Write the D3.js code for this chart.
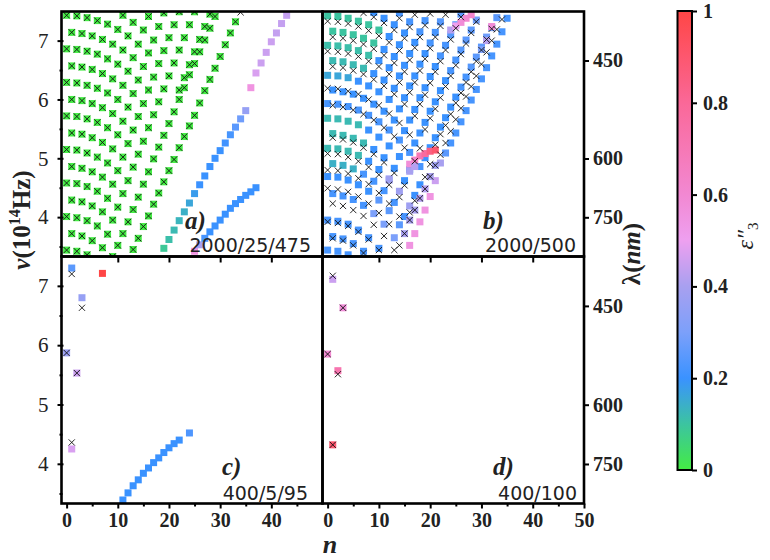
<!DOCTYPE html>
<html>
<head>
<meta charset="utf-8">
<script src="https://cdn.jsdelivr.net/npm/d3@7"></script>
<style>
body { margin: 0; background: #fff; }
svg text { font-family: 'Liberation Serif', 'Times New Roman', serif; }
</style>
</head>
<body>
<svg id="chart" width="770" height="560"></svg>
<script>

// ---- data (n, nu in 1e14 Hz, eps'') ----

// colormap used for eps''
var cmapStops = [0, 0.1, 0.2, 0.3, 0.4, 0.5, 0.6, 0.8, 1];
var cmapColors = ["#44ec44", "#3cc4a0", "#3a92ff", "#7ca0fa", "#a8a0f0", "#eea0f0", "#f288d2", "#fa6898", "#ff4646"];
var cbarTicks = [0, 0.2, 0.4, 0.6, 0.8, 1];

var xTicksTop = [10, 20, 30, 40];
var xTicksC = [0, 10, 20, 30, 40];
var xTicksD = [0, 10, 20, 30, 40, 50];
var xMinor = [5, 15, 25, 35, 45];
var nuTicks = [4, 5, 6, 7];
var nuMinor = [3.5, 4.5, 5.5, 6.5, 7.5];
var lambdaTicks = [450, 600, 750];

// panel a: rows of the green lattice, [first n, nu values every 2nd n] (squares + crosses)
var rowsA = [
  [0, [7.43, 7.42, 7.39, 7.34, 7.28, 7.19, 7.08, 6.94, 6.79, 6.61, 6.40, 6.16]],
  [1, [7.14, 7.12, 7.08, 7.02, 6.94, 6.84, 6.71, 6.56, 6.38, 6.18]],
  [0, [6.86, 6.85, 6.82, 6.77, 6.69, 6.60, 6.48, 6.33, 6.16, 5.96]],
  [1, [6.57, 6.55, 6.51, 6.44, 6.35, 6.24, 6.10, 5.93, 5.74]],
  [0, [6.29, 6.28, 6.24, 6.19, 6.11, 6.00, 5.87, 5.71, 5.52]],
  [1, [6.00, 5.98, 5.93, 5.86, 5.76, 5.63, 5.48, 5.29]],
  [0, [5.72, 5.71, 5.67, 5.61, 5.52, 5.40, 5.25, 5.07]],
  [1, [5.43, 5.41, 5.35, 5.27, 5.16, 5.02, 4.85]],
  [0, [5.15, 5.14, 5.09, 5.02, 4.92, 4.79, 4.62]],
  [1, [4.86, 4.83, 4.77, 4.68, 4.56, 4.40]],
  [0, [4.58, 4.57, 4.52, 4.44, 4.32, 4.17]],
  [1, [4.29, 4.26, 4.19, 4.09, 3.95]],
  [0, [4.01, 3.99, 3.94, 3.85, 3.71]],
  [1, [3.72, 3.68, 3.60, 3.48]],
  [0, [3.44, 3.42, 3.36]],
  [11, [7.43, 7.31, 7.18, 7.01, 6.83, 6.62, 6.37]],
  [16, [7.41, 7.24, 7.05, 6.84, 6.59]],
  [19, [7.47, 7.27, 7.05, 6.81]],
  [22, [7.49, 7.27, 7.02]],
  [25, [7.49, 7.24]],
  [28, [7.45]]
];
var lineA1 = [3.45, 3.64, 3.84, 4.02, 4.22, 4.41, 4.60, 4.79, 4.98, 5.18, 5.37, 5.55, 5.73, 5.94, 6.15, 6.34, 6.53, 6.73, 6.93, 7.13, 7.32]; // n = 13..33
var lineA2 = [3.33, 3.52, 3.72, 3.92, 4.13, 4.34, 4.56, 4.77, 4.99, 5.19, 5.39, 5.59, 5.79, 6.00, 6.20, 6.42, 6.61, 6.81, 7.01, 7.21, 7.41]; // n = 9..29
var extraCrossA = [[34, 7.48]];
// panel a: branches without crosses
var branchT = [3.47, 3.62, 3.78, 3.94, 4.09, 4.24, 4.40, 4.55, 4.70, 4.86, 5.00, 5.13, 5.26, 5.40, 5.53, 5.67, 5.81]; // n = 19..35
var branchTEps = [0.09, 0.11, 0.12, 0.13, 0.14, 0.16, 0.18, 0.2, 0.2, 0.2, 0.2, 0.2, 0.21, 0.22, 0.25, 0.28, 0.36];
var branchP = [6.20, 6.45, 6.62, 6.80, 6.98, 7.13, 7.29, 7.43]; // n = 36..43
var branchPEps = [0.55, 0.47, 0.45, 0.45, 0.45, 0.44, 0.44, 0.44];
var branchB = [3.42, 3.53, 3.64, 3.75, 3.85, 3.95, 4.05, 4.15, 4.23, 4.30, 4.37, 4.43, 4.50]; // n = 25..37
var branchBEps = [0.55, 0.4, 0.22, 0.2, 0.2, 0.2, 0.2, 0.2, 0.2, 0.2, 0.2, 0.2, 0.2];

// panel b: square rows [first n, nu every 2nd n, [[from n, eps], ...]]
var sqRowsB = [
  [0, [7.42, 7.41, 7.38, 7.33, 7.27, 7.18, 7.07, 6.93, 6.78, 6.60, 6.39, 6.15, 5.87], [[0, 0.1], [12, 0.2]]],
  [1, [7.16, 7.14, 7.10, 7.04, 6.96, 6.85, 6.73, 6.58, 6.40, 6.20, 5.96, 5.69], [[0, 0.1], [11, 0.2]]],
  [0, [6.92, 6.91, 6.88, 6.83, 6.75, 6.66, 6.54, 6.40, 6.23, 6.03, 5.80, 5.53], [[0, 0.11], [10, 0.2]]],
  [1, [6.66, 6.64, 6.59, 6.53, 6.44, 6.33, 6.19, 6.03, 5.83, 5.61, 5.35], [[0, 0.12], [9, 0.2]]],
  [0, [6.41, 6.40, 6.37, 6.31, 6.23, 6.13, 6.00, 5.84, 5.65, 5.43, 5.18], [[0, 0.16], [6, 0.2]]],
  [1, [6.16, 6.13, 6.09, 6.02, 5.92, 5.80, 5.65, 5.47, 5.26, 5.01], [[0, 0.2]]],
  [0, [5.93, 5.92, 5.88, 5.82, 5.73, 5.62, 5.48, 5.31, 5.10, 4.86], [[0, 0.22]]],
  [0, [5.68, 5.67, 5.63, 5.57, 5.48, 5.36, 5.21, 5.03, 4.81, 4.55], [[0, 0.12], [8, 0.2]]],
  [1, [5.42, 5.39, 5.34, 5.26, 5.15, 5.01, 4.83, 4.62, 4.37], [[0, 0.12], [9, 0.2]]],
  [0, [5.17, 5.16, 5.12, 5.05, 4.95, 4.81, 4.65, 4.44, 4.19], [[0, 0.12], [8, 0.2], [12, 0.38]]],
  [1, [4.91, 4.88, 4.82, 4.73, 4.61, 4.45, 4.25, 4.01], [[0, 0.14], [7, 0.22]]],
  [0, [4.69, 4.68, 4.63, 4.55, 4.44, 4.29, 4.11, 3.87], [[0, 0.2], [10, 0.25]]],
  [1, [4.40, 4.36, 4.30, 4.20, 4.06, 3.88, 3.65], [[0, 0.22], [9, 0.3]]],
  [0, [3.95, 3.93, 3.88, 3.78, 3.65, 3.47], [[0, 0.22]]],
  [1, [3.67, 3.63, 3.55, 3.42], [[0, 0.22]]],
  [0, [3.44, 3.42, 3.36], [[0, 0.22]]],
  [9, [7.48, 7.38, 7.27, 7.13, 6.97, 6.78, 6.56, 6.32, 6.04], [[0, 0.2]]],
  [14, [7.47, 7.32, 7.15, 6.96, 6.74, 6.49, 6.21], [[0, 0.22]]],
  [19, [7.34, 7.14, 6.92, 6.67, 6.38], [[0, 0.22]]],
  [22, [7.32, 7.10, 6.84, 6.55], [[0, 0.24]]],
  [25, [7.27, 7.01, 6.72], [[0, 0.25]]],
  [26, [7.45, 7.18, 6.89], [[0, 0.25]]],
  [29, [7.35, 7.06], [[0, 0.28]]],
  [32, [7.22], [[0, 0.3]]],
  [33, [7.39], [[0, 0.25]]]
];
// panel b: cross rows [first n, nu every 2nd n]
var crRowsB = [
  [0, [7.33, 7.32, 7.29, 7.24, 7.17, 7.08, 6.97, 6.83, 6.67, 6.49, 6.28, 6.03, 5.75]],
  [1, [7.06, 7.04, 7.00, 6.94, 6.86, 6.75, 6.62, 6.47, 6.29, 6.08, 5.84, 5.56]],
  [0, [6.82, 6.81, 6.78, 6.73, 6.65, 6.56, 6.43, 6.29, 6.12, 5.92, 5.68, 5.41]],
  [1, [6.56, 6.54, 6.49, 6.43, 6.34, 6.23, 6.09, 5.92, 5.72, 5.49, 5.23]],
  [0, [6.19, 6.18, 6.14, 6.09, 6.00, 5.90, 5.76, 5.60, 5.40, 5.17, 4.90]],
  [1, [5.90, 5.87, 5.82, 5.75, 5.65, 5.52, 5.37, 5.18, 4.95, 4.68]],
  [1, [5.35, 5.32, 5.27, 5.18, 5.07, 4.93, 4.75, 4.54, 4.28]],
  [0, [5.08, 5.07, 5.02, 4.95, 4.85, 4.72, 4.55, 4.34, 4.08]],
  [0, [4.80, 4.79, 4.74, 4.66, 4.56, 4.41, 4.23, 4.01]],
  [0, [4.49, 4.47, 4.43, 4.35, 4.23, 4.07, 3.88]],
  [1, [4.23, 4.19, 4.12, 4.02, 3.87, 3.68, 3.44]],
  [0, [3.92, 3.90, 3.85, 3.75, 3.62, 3.44]],
  [1, [3.64, 3.60, 3.52, 3.39]],
  [7, [7.47, 7.40, 7.30, 7.18, 7.04, 6.88, 6.69, 6.47, 6.22, 5.94]],
  [14, [7.38, 7.23, 7.06, 6.87, 6.65, 6.40, 6.11]],
  [17, [7.44, 7.26, 7.06, 6.84, 6.58, 6.29]],
  [20, [7.46, 7.25, 7.02, 6.77, 6.47]],
  [23, [7.44, 7.21, 6.95, 6.65]],
  [26, [7.40, 7.13, 6.84]],
  [29, [7.32, 7.02]],
  [32, [7.20]]
];
// panel b: outer edge lines (one point per n)
var edgeB = [3.52, 3.72, 3.92, 4.12, 4.35, 4.62, 4.92, 5.09, 5.26, 5.43, 5.62, 5.81, 5.99, 6.17, 6.35, 6.54, 6.74, 6.94, 7.15, 7.38]; // n = 16..35
var edgeBEps = [0.55, 0.55, 0.55, 0.55, 0.55, 0.45, 0.4, 0.25, 0.22, 0.22, 0.22, 0.22, 0.22, 0.22, 0.22, 0.22, 0.22, 0.22, 0.22, 0.22];
var edgeCrossB = [3.52, 3.72, 3.95, 4.12, 4.32, 4.48, 4.69, 4.88, 5.06, 5.26, 5.46, 5.66, 5.85, 6.05, 6.22, 6.40, 6.60, 6.80, 7.00, 7.19, 7.36]; // n = 14..34
var extraSqB = [
  [15, 3.72, 0.4], [16, 3.95, 0.4], [17, 4.12, 0.4], [18, 4.32, 0.42], [19, 4.48, 0.42], [20, 4.69, 0.4], [21, 4.88, 0.38],
  [16, 4.90, 0.58], [17, 4.97, 0.62], [18, 5.04, 0.7], [19, 5.08, 0.78], [20, 5.12, 0.85], [21, 5.14, 0.9],
  [16, 4.78, 0.4], [17, 4.86, 0.42], [12, 4.63, 0.38],
  [24, 7.18, 0.42], [25, 7.25, 0.5], [26, 7.31, 0.58], [27, 7.38, 0.6], [28, 7.44, 0.62],
  [30, 6.85, 0.3], [31, 7.00, 0.42], [32, 7.24, 0.58]
];

// panel c
var squaresC = [
  [1, 7.30, 0.25], [7, 7.21, 1.0], [3, 6.80, 0.36], [0, 5.87, 0.37], [2, 5.53, 0.45], [1, 4.25, 0.47],
  [11, 3.39, 0.2], [12, 3.51, 0.2], [13, 3.63, 0.2], [14, 3.73, 0.2], [15, 3.84, 0.2], [16, 3.93, 0.2],
  [17, 4.02, 0.2], [18, 4.10, 0.2], [19, 4.19, 0.2], [20, 4.27, 0.2], [21, 4.34, 0.2], [22, 4.40, 0.2], [24, 4.52, 0.23]
];
var crossesC = [[1, 7.20], [3, 6.63], [0, 5.87], [2, 5.53], [1, 4.36]];

// panel d
var squaresD = [[1, 7.11, 0.45], [3, 6.63, 0.58], [0, 5.85, 0.6], [2, 5.57, 0.72], [1, 4.32, 0.9]];
var crossesD = [[1, 7.17], [3, 6.63], [0, 5.85], [2, 5.51], [1, 4.32]];

// ---- build point lists ----
function epsAt(segs, n) {
  var e = segs[0][1];
  segs.forEach(function(s) { if (n >= s[0]) e = s[1]; });
  return e;
}

var sqA = [], crA = [];
rowsA.forEach(function(r) { r[1].forEach(function(v, i) { sqA.push([r[0] + 2 * i, v, 0]); crA.push([r[0] + 2 * i, v]); }); });
lineA1.forEach(function(v, i) { sqA.push([13 + i, v, 0]); crA.push([13 + i, v]); });
lineA2.forEach(function(v, i) { sqA.push([9 + i, v, 0]); crA.push([9 + i, v]); });
extraCrossA.forEach(function(p) { crA.push(p); });
branchT.forEach(function(v, i) { sqA.push([19 + i, v, branchTEps[i]]); });
branchP.forEach(function(v, i) { sqA.push([36 + i, v, branchPEps[i]]); });
branchB.forEach(function(v, i) { sqA.push([25 + i, v, branchBEps[i]]); });

var sqB = [], crB = [];
sqRowsB.forEach(function(r) { r[1].forEach(function(v, i) { var n = r[0] + 2 * i; sqB.push([n, v, epsAt(r[2], n)]); }); });
crRowsB.forEach(function(r) { r[1].forEach(function(v, i) { crB.push([r[0] + 2 * i, v]); }); });
edgeB.forEach(function(v, i) { sqB.push([16 + i, v, edgeBEps[i]]); });
extraSqB.forEach(function(p) { sqB.push(p); });
edgeCrossB.forEach(function(v, i) { crB.push([14 + i, v]); });

// ---- layout ----
var svg = d3.select("#chart");
var color = d3.scaleLinear().domain(cmapStops).range(cmapColors).interpolate(d3.interpolateRgb);
var nuToLambda = 2997.9;

var panels = [
  { x0: 61.5, y0: 11.5, w: 261, h: 245, sq: sqA, cr: crA, label: "a)", info: "2000/25/475", lx: 185, ix: 311, ly: 229, iy: 252 },
  { x0: 322.5, y0: 11.5, w: 261.5, h: 245, sq: sqB, cr: crB, label: "b)", info: "2000/500", lx: 483, ix: 576, ly: 229, iy: 252 },
  { x0: 61.5, y0: 256.5, w: 261, h: 247, sq: squaresC, cr: crossesC, label: "c)", info: "400/5/95", lx: 222, ix: 308, ly: 475, iy: 500 },
  { x0: 322.5, y0: 256.5, w: 261.5, h: 247, sq: squaresD, cr: crossesD, label: "d)", info: "400/100", lx: 493, ix: 577, ly: 475, iy: 500 }
];

panels.forEach(function(p, k) {
  p.x = d3.scaleLinear().domain([-1, 50]).range([p.x0, p.x0 + p.w]);
  p.y = d3.scaleLinear().domain([nuToLambda / 900, nuToLambda / 400]).range([p.y0 + p.h, p.y0]);

  var clipId = "clip" + k;
  svg.append("clipPath").attr("id", clipId)
    .append("rect").attr("x", p.x0).attr("y", p.y0).attr("width", p.w).attr("height", p.h);

  var g = svg.append("g").attr("clip-path", "url(#" + clipId + ")");
  var s = 7;
  g.selectAll("rect.sq").data(p.sq).enter().append("rect")
    .attr("x", function(d) { return p.x(d[0]) - s / 2; })
    .attr("y", function(d) { return p.y(d[1]) - s / 2; })
    .attr("width", s).attr("height", s)
    .attr("fill", function(d) { return color(d[2]); });
  var c = 3.1;
  g.selectAll("path.cr").data(p.cr).enter().append("path")
    .attr("d", function(d) {
      var X = p.x(d[0]), Y = p.y(d[1]);
      return "M" + (X - c) + "," + (Y - c) + "L" + (X + c) + "," + (Y + c) +
             "M" + (X - c) + "," + (Y + c) + "L" + (X + c) + "," + (Y - c);
    })
    .attr("stroke", "#111").attr("stroke-width", 0.9).attr("fill", "none");

  svg.append("text").attr("x", p.lx).attr("y", p.ly)
    .attr("font-size", 25).attr("font-weight", "bold").attr("font-style", "italic").attr("fill", "#222")
    .text(p.label);
  svg.append("text").attr("x", p.ix).attr("y", p.iy).attr("text-anchor", "end")
    .style("font-family", "'DejaVu Sans', sans-serif").attr("font-size", 19)
    .attr("fill", "#222").text(p.info);
});

function styleAxis(sel, size, weight) {
  sel.select(".domain").remove();
  sel.selectAll(".tick line").attr("stroke", "#000").attr("stroke-width", 2);
  sel.selectAll(".tick text").attr("font-size", size).attr("font-weight", weight)
    .attr("fill", "#222").style("font-family", "'Liberation Serif', serif");
}

// left axes (a, c)
[panels[0], panels[2]].forEach(function(p) {
  var ax = svg.append("g").attr("transform", "translate(" + (p.x0 + 2) + ",0)")
    .call(d3.axisLeft(p.y).tickValues(nuTicks).tickSize(6).tickPadding(9).tickFormat(d3.format("d")));
  styleAxis(ax, 21, "normal");
  var mn = svg.append("g").attr("transform", "translate(" + (p.x0 + 1) + ",0)")
    .call(d3.axisLeft(p.y).tickValues(nuMinor.filter(function(v) { return v > p.y.domain()[0] && v < p.y.domain()[1]; })).tickSize(3).tickFormat(""));
  styleAxis(mn, 10, "normal");
});

// right axes (b, d) in wavelength
[panels[1], panels[3]].forEach(function(p) {
  var ax = svg.append("g").attr("transform", "translate(" + (p.x0 + p.w) + ",0)")
    .call(d3.axisRight(p.y).tickValues(lambdaTicks.map(function(l) { return nuToLambda / l; }))
      .tickSize(5).tickPadding(4).tickFormat(function(d, i) { return lambdaTicks[i]; }));
  styleAxis(ax, 20, "bold");
});

// bottom axes (c, d)
[[panels[2], xTicksC], [panels[3], xTicksD]].forEach(function(q) {
  var p = q[0];
  var ax = svg.append("g").attr("transform", "translate(0," + (p.y0 + p.h) + ")")
    .call(d3.axisBottom(p.x).tickValues(q[1]).tickSize(5).tickPadding(4).tickFormat(d3.format("d")));
  styleAxis(ax, 20, "bold");
  var mn = svg.append("g").attr("transform", "translate(0," + (p.y0 + p.h) + ")")
    .call(d3.axisBottom(p.x).tickValues(xMinor.filter(function(v) { return v < 50; })).tickSize(3).tickFormat(""));
  styleAxis(mn, 10, "normal");
});

// ticks on the shared middle edge (bottom axes of a, b)
[panels[0], panels[1]].forEach(function(p) {
  var ax = svg.append("g").attr("transform", "translate(0," + (p.y0 + p.h) + ")")
    .call(d3.axisBottom(p.x).tickValues(xTicksTop).tickSize(6).tickFormat(""));
  styleAxis(ax, 10, "normal");
});

// frames
panels.forEach(function(p) {
  svg.append("rect").attr("x", p.x0).attr("y", p.y0).attr("width", p.w).attr("height", p.h)
    .attr("fill", "none").attr("stroke", "#000").attr("stroke-width", 2.6);
});

// axis titles
var yt = svg.append("text").attr("transform", "translate(30,220) rotate(-90)")
  .attr("text-anchor", "middle").attr("font-size", 25).attr("font-weight", "bold").attr("fill", "#222");
yt.append("tspan").attr("font-style", "italic").text("\u03bd");
yt.append("tspan").text("(10");
yt.append("tspan").attr("font-size", 16).attr("dy", -10).text("14");
yt.append("tspan").attr("dy", 10).text("Hz)");

var rt = svg.append("text").attr("transform", "translate(640,254) rotate(-90)")
  .attr("text-anchor", "middle").attr("font-size", 25).attr("font-weight", "bold").attr("fill", "#222");
rt.append("tspan").text("\u03bb(");
rt.append("tspan").attr("font-style", "italic").text("nm");
rt.append("tspan").text(")");

svg.append("text").attr("x", 330).attr("y", 553).attr("text-anchor", "middle")
  .attr("font-size", 26).attr("font-weight", "bold").attr("font-style", "italic").attr("fill", "#222").text("n");

// colorbar
var cb = { x: 677.5, y0: 11, y1: 470, w: 14.5 };
var grad = svg.append("defs").append("linearGradient").attr("id", "cgrad")
  .attr("x1", 0).attr("y1", 1).attr("x2", 0).attr("y2", 0);
d3.range(0, 1.0001, 0.05).forEach(function(t) {
  grad.append("stop").attr("offset", t).attr("stop-color", color(t));
});
svg.append("rect").attr("x", cb.x).attr("y", cb.y0).attr("width", cb.w).attr("height", cb.y1 - cb.y0)
  .attr("fill", "url(#cgrad)").attr("stroke", "#000").attr("stroke-width", 2);
var cy = d3.scaleLinear().domain([0, 1]).range([cb.y1, cb.y0]);
var cax = svg.append("g").attr("transform", "translate(" + (cb.x + cb.w) + ",0)")
  .call(d3.axisRight(cy).tickValues(cbarTicks).tickSize(5).tickPadding(6)
    .tickFormat(function(d) { return d === 0 || d === 1 ? d : d.toFixed(1); }));
styleAxis(cax, 20, "bold");

var et = svg.append("text").attr("transform", "translate(753,236) rotate(-90)")
  .attr("text-anchor", "middle").attr("font-size", 24).attr("fill", "#222");
et.append("tspan").attr("font-style", "italic").text("\u03b5\u2033");
et.append("tspan").attr("font-size", 15).attr("dy", 5).text("3");

</script>
</body>
</html>
